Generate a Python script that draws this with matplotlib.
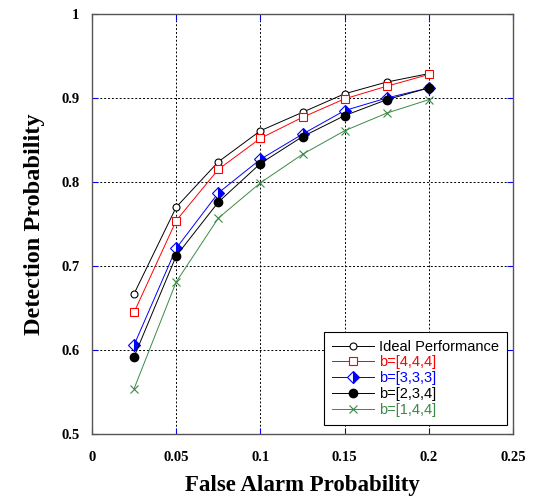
import matplotlib
matplotlib.use("Agg")
import matplotlib.pyplot as plt

x = [0.025, 0.05, 0.075, 0.1, 0.125, 0.15, 0.175, 0.2]
ideal = [0.667, 0.770, 0.824, 0.861, 0.883, 0.905, 0.919, 0.929]
b444 = [0.645, 0.754, 0.815, 0.852, 0.877, 0.899, 0.914, 0.928]
b333 = [0.606, 0.721, 0.787, 0.827, 0.857, 0.885, 0.900, 0.912]
b234 = [0.592, 0.712, 0.776, 0.822, 0.854, 0.879, 0.898, 0.912]
b144 = [0.554, 0.681, 0.757, 0.799, 0.833, 0.861, 0.882, 0.898]

xticks = [0, 0.05, 0.1, 0.15, 0.2, 0.25]
xticklabels = ["0", "0.05", "0.1", "0.15", "0.2", "0.25"]
yticks = [0.5, 0.6, 0.7, 0.8, 0.9, 1.0]
yticklabels = ["0.5", "0.6", "0.7", "0.8", "0.9", "1"]

green = "#3a8a46"

fig = plt.figure(figsize=(5.36, 5.01), dpi=100)
ax = fig.add_axes([92/536, 67/501, 421/536, 420/501])

ax.plot(x, ideal, color="black", lw=0.7, marker="o", ms=5, mfc="white", mec="black", mew=0.8, label="Ideal Performance")
ax.plot(x, b444, color="red", lw=0.7, marker="s", ms=5.5, mfc="white", mec="red", mew=0.8, label="b=[4,4,4]")
ax.plot(x, b333, color="blue", lw=0.7, marker="D", ms=6, fillstyle="right", mfc="blue", mfcalt="white", mec="blue", mew=0.8, label="b=[3,3,3]")
ax.plot(x, b234, color="black", lw=0.7, marker="o", ms=6, mfc="black", mec="black", label="b=[2,3,4]")
ax.plot(x, b144, color=green, lw=0.7, marker="x", ms=6, mew=0.8, label="b=[1,4,4]")

ax.set_xlim(0, 0.25)
ax.set_ylim(0.5, 1.0)
ax.set_xticks(xticks)
ax.set_xticklabels(xticklabels)
ax.set_yticks(yticks)
ax.set_yticklabels(yticklabels)
for lab in ax.get_xticklabels() + ax.get_yticklabels():
    lab.set_fontfamily("Liberation Serif")
    lab.set_fontweight("bold")
    lab.set_fontsize(10.5)

ax.tick_params(direction="in", top=True, right=True, color="blue", length=4, width=0.8)
ax.tick_params(axis="x", pad=12)
ax.tick_params(axis="y", pad=9)
ax.grid(True, color="black", linestyle=(0, (2, 2)), linewidth=0.7)
for s in ax.spines.values():
    s.set_color("#555555")
    s.set_linewidth(1.0)

ax.set_xlabel("False Alarm Probability", fontfamily="Liberation Serif", fontweight="bold", fontsize=16.5, labelpad=8)
ax.set_ylabel("Detection Probability", fontfamily="Liberation Serif", fontweight="bold", fontsize=17.5, labelpad=12)

leg = ax.legend(loc="lower right", bbox_to_anchor=(0.985, 0.022), fancybox=False, edgecolor="black",
                framealpha=1, prop={"family": "Liberation Sans", "size": 10.5}, handlelength=2.9,
                borderpad=0.55, labelspacing=0.12, handletextpad=0.3, borderaxespad=0)
leg.get_frame().set_linewidth(0.8)
cols = ["black", "red", "blue", "black", green]
for t, c in zip(leg.get_texts(), cols):
    t.set_color(c)

fig.savefig("out.png", dpi=100)
